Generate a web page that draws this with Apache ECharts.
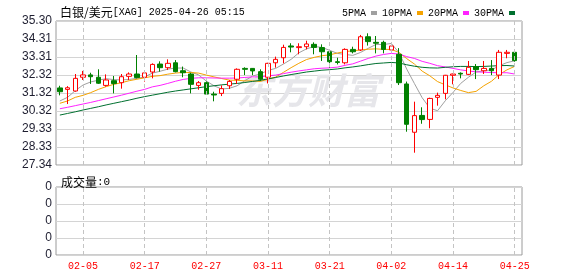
<!DOCTYPE html>
<html>
<head>
<meta charset="utf-8">
<script src="https://cdn.jsdelivr.net/npm/echarts@6/dist/echarts.min.js"></script>
<style>
html,body{margin:0;padding:0;background:#fff;}
#c{width:578px;height:276px;}
</style>
</head>
<body>
<div id="c"></div>
<script>
// ---- data ----
const dates = ['01-31','02-03','02-04','02-05','02-06','02-07','02-10','02-11','02-12','02-13',
  '02-14','02-17','02-18','02-19','02-20','02-21','02-24','02-25','02-26','02-27',
  '02-28','03-03','03-04','03-05','03-06','03-07','03-10','03-11','03-12','03-13',
  '03-14','03-17','03-18','03-19','03-20','03-21','03-24','03-25','03-26','03-27',
  '03-28','03-31','04-01','04-02','04-03','04-04','04-07','04-08','04-09','04-10',
  '04-11','04-14','04-15','04-16','04-17','04-21','04-22','04-23','04-24','04-25'];

const open = [31.60,31.52,31.43,32.19,32.32,32.19,31.74,32.00,31.89,32.24,
  32.37,32.19,32.48,32.92,32.72,32.99,32.55,32.37,31.74,31.89,
  31.26,31.30,31.72,32.08,32.68,32.68,32.50,32.19,32.99,33.27,
  33.92,33.83,33.88,34.01,33.83,33.60,33.05,32.99,33.73,33.70,
  34.43,34.12,34.12,33.70,33.46,31.82,29.15,30.08,29.86,31.08,
  31.30,32.30,32.41,32.35,32.78,32.55,32.68,32.31,33.51,33.57];
const close = [31.39,31.61,32.13,32.32,32.22,31.86,32.04,31.84,32.22,32.37,
  32.17,32.43,32.90,32.72,32.96,32.50,32.44,31.80,31.89,31.26,
  31.21,31.56,31.96,32.63,32.63,32.54,32.08,32.96,33.18,33.84,
  33.86,33.88,34.03,33.84,33.60,33.05,33.01,33.73,33.60,34.43,
  34.16,34.07,33.73,33.92,31.89,29.59,30.07,29.85,31.02,31.19,
  32.30,32.37,32.37,32.74,32.61,32.68,32.55,33.57,33.57,33.11];
const low = [31.19,30.71,31.39,32.04,31.82,31.82,31.67,31.30,31.56,32.04,
  32.13,31.95,32.13,32.50,32.59,32.46,32.19,31.30,31.50,31.23,
  30.86,31.15,31.54,31.82,32.31,32.31,31.98,31.85,32.72,32.96,
  33.57,33.46,33.73,33.46,33.09,32.72,32.90,32.90,33.51,33.64,
  33.94,33.51,33.51,33.60,31.76,29.18,28.02,29.62,29.37,30.62,
  30.97,31.80,32.13,32.31,32.09,32.37,32.31,32.09,33.24,33.05];
const high = [31.72,31.70,32.37,32.54,32.44,32.63,32.35,32.26,32.37,32.46,
  33.42,32.54,32.96,33.07,33.18,33.14,32.78,32.44,31.98,31.96,
  31.39,31.74,32.04,32.68,32.74,32.70,32.63,32.99,33.33,33.99,
  34.07,34.07,34.21,34.12,34.01,33.70,33.27,33.79,33.88,34.53,
  34.62,34.47,34.21,34.10,33.80,31.95,30.84,30.53,31.06,31.34,
  32.32,32.39,32.46,33.09,32.92,33.09,33.14,33.70,33.70,33.70];

const ma5 = [30.88,31.08,31.45,31.76,31.93,32.03,32.11,32.06,32.04,32.07,
  32.13,32.21,32.42,32.52,32.64,32.70,32.70,32.48,32.32,31.98,
  31.72,31.54,31.58,31.72,32.00,32.26,32.37,32.57,32.68,32.92,
  33.18,33.54,33.76,33.89,33.84,33.68,33.51,33.45,33.40,33.56,
  33.79,34.00,34.00,34.06,33.55,32.64,31.84,31.06,30.48,30.34,
  30.89,31.35,31.85,32.19,32.48,32.55,32.59,32.83,33.00,33.10];
const ma10 = [30.75,30.88,31.08,31.19,31.34,31.52,31.67,31.80,31.89,32.00,
  32.08,32.16,32.24,32.28,32.36,32.42,32.46,32.45,32.42,32.31,
  32.21,32.12,32.03,32.02,31.99,31.99,31.96,32.08,32.20,32.46,
  32.72,32.96,33.17,33.29,33.38,33.43,33.53,33.61,33.65,33.70,
  33.74,33.76,33.73,33.73,33.56,33.22,32.92,32.53,32.27,31.95,
  31.77,31.60,31.46,31.34,31.41,31.72,31.97,32.34,32.60,32.79];
const ma20 = [30.45,30.53,30.62,30.71,30.80,30.90,31.00,31.10,31.20,31.31,
  31.42,31.52,31.66,31.74,31.85,31.97,32.07,32.13,32.16,32.16,
  32.15,32.14,32.14,32.15,32.18,32.21,32.21,32.27,32.31,32.39,
  32.47,32.54,32.60,32.66,32.69,32.71,32.75,32.85,32.93,33.08,
  33.23,33.36,33.45,33.51,33.47,33.33,33.23,33.07,32.96,32.83,
  32.76,32.68,32.60,32.54,32.49,32.47,32.45,32.44,32.44,32.37];
const ma30 = [30.10,30.19,30.28,30.38,30.47,30.56,30.66,30.75,30.84,30.93,
  31.03,31.12,31.20,31.28,31.36,31.43,31.49,31.55,31.61,31.67,
  31.72,31.77,31.81,31.85,31.90,31.96,32.02,32.10,32.18,32.26,
  32.34,32.41,32.48,32.53,32.58,32.61,32.65,32.71,32.76,32.82,
  32.89,32.95,32.98,33.01,32.98,32.88,32.80,32.74,32.71,32.70,
  32.74,32.77,32.79,32.79,32.78,32.79,32.81,32.83,32.84,32.81];

const volumes = [0,0,0,0,0,0,0,0,0,0, 0,0,0,0,0,0,0,0,0,0, 0,0,0,0,0,0,0,0,0,0,
  0,0,0,0,0,0,0,0,0,0, 0,0,0,0,0,0,0,0,0,0, 0,0,0,0,0,0,0,0,0,0];

const xTickLabels = ['02-05','02-17','02-27','03-11','03-21','04-02','04-14','04-25'];
const yTickLabels = ['27.34','28.33','29.33','30.32','31.32','32.32','33.31','34.31','35.30'];
const volTickLabels = ['0','0','0','0','0'];
const maNames = ['5PMA','10PMA','20PMA','30PMA'];
const maColors = ['#a0a0a0','#f5a300','#ff22ff','#00702f'];

// ---- build ----
const yMin = 27.34, yMax = 35.30, yStep = (yMax - yMin) / 8;
const candleData = dates.map((d, i) => [open[i], close[i], low[i], high[i]]);
const maData = [ma5, ma10, ma20, ma30];
const gridLine = '#d4d4d4';
const frameColor = '#9a9a9a';
const markLines = {
  silent: true, symbol: ['none','none'], animation: false,
  label: {show: false},
  lineStyle: {color: '#c4c4c4', type: [4, 3], width: 1},
  data: xTickLabels.map(t => ({xAxis: t}))
};

const chart = echarts.init(document.getElementById('c'), null, {renderer: 'canvas'});
chart.setOption({
  animation: false,
  backgroundColor: '#fff',
  title: [{
    left: 55, top: 1,
    text: '{a|白银/美元}{b|[XAG] 2025-04-26 05:15}',
    textStyle: {fontWeight: 'normal', rich: {
      a: {fontFamily: 'Noto Sans CJK SC', fontSize: 12, fontWeight: 'normal', color: '#000'},
      b: {fontFamily: 'Liberation Mono', fontSize: 10, fontWeight: 'normal', color: '#000'}
    }}
  }, {
    left: 56, top: 171,
    text: '{a|成交量}{b|:0}',
    textStyle: {fontWeight: 'normal', rich: {
      a: {fontFamily: 'Noto Sans CJK SC', fontSize: 12, fontWeight: 'normal', color: '#000'},
      b: {fontFamily: 'Liberation Mono', fontSize: 11, fontWeight: 'normal', color: '#000'}
    }}
  }],
  legend: {
    left: 337, top: 3,
    align: 'right', icon: 'rect', itemWidth: 6, itemHeight: 4, itemGap: 5,
    selectedMode: false,
    textStyle: {fontFamily: 'Liberation Mono', fontSize: 10, color: '#000'},
    data: maNames
  },
  graphic: [{
    type: 'text', left: 236, top: 72, z: 1, silent: true,
    style: {text: '东方财富', fill: '#e6e6ea', font: 'italic bold 36px "Noto Sans CJK SC"'}
  }],
  grid: [
    {left: 56, top: 21, width: 466, height: 144, show: true, borderColor: frameColor, borderWidth: 1},
    {left: 56, top: 21, width: 462.5, height: 144},
    {left: 56, top: 187, width: 466, height: 68, show: true, borderColor: frameColor, borderWidth: 1},
    {left: 56, top: 187, width: 462.5, height: 68}
  ],
  xAxis: [
    {gridIndex: 0, type: 'value', show: false, min: 0, max: 1},
    {gridIndex: 1, type: 'category', data: dates, boundaryGap: true,
      axisLine: {show: false}, axisTick: {show: false}, axisLabel: {show: false}, splitLine: {show: false}},
    {gridIndex: 2, type: 'value', show: false, min: 0, max: 1},
    {gridIndex: 3, type: 'category', data: dates, boundaryGap: true,
      axisLine: {show: false}, axisTick: {show: false}, splitLine: {show: false},
      axisLabel: {
        interval: (idx, val) => xTickLabels.includes(val),
        color: '#ff0000', fontFamily: 'Liberation Mono', fontSize: 10, margin: 6
      }}
  ],
  yAxis: [
    {gridIndex: 0, type: 'value', min: yMin, max: yMax, interval: yStep,
      axisLine: {show: false}, axisTick: {show: false},
      splitLine: {lineStyle: {color: gridLine, width: 1}},
      axisLabel: {
        formatter: v => yTickLabels[Math.round((v - yMin) / yStep)],
        color: '#1e1e30', fontFamily: 'Liberation Sans', fontSize: 12, margin: 4
      }},
    {gridIndex: 1, type: 'value', min: yMin, max: yMax, show: false, splitLine: {show: false}},
    {gridIndex: 2, type: 'value', min: 0, max: 4, interval: 1,
      axisLine: {show: false}, axisTick: {show: false},
      splitLine: {lineStyle: {color: gridLine, width: 1}},
      axisLabel: {
        formatter: v => volTickLabels[Math.round(v)],
        color: '#1e1e30', fontFamily: 'Liberation Sans', fontSize: 12, margin: 4
      }},
    {gridIndex: 3, type: 'value', min: 0, max: 4, show: false, splitLine: {show: false}}
  ],
  series: maNames.map((n, k) => ({
    name: n, type: 'line', xAxisIndex: 1, yAxisIndex: 1,
    data: maData[k], showSymbol: false, symbol: 'none', smooth: false,
    color: maColors[k],
    lineStyle: {color: maColors[k], width: 1}, z: 2
  })).concat([{
    name: 'K', type: 'candlestick', xAxisIndex: 1, yAxisIndex: 1,
    data: candleData, barWidth: 5, z: 3,
    itemStyle: {color: '#ffffff', color0: '#008000', borderColor: '#ff0000', borderColor0: '#008000', borderWidth: 1},
    markLine: markLines
  }, {
    name: 'VOL', type: 'bar', xAxisIndex: 3, yAxisIndex: 3,
    data: volumes, barWidth: 5, itemStyle: {color: '#008000'},
    markLine: markLines
  }])
});
</script>
</body>
</html>
